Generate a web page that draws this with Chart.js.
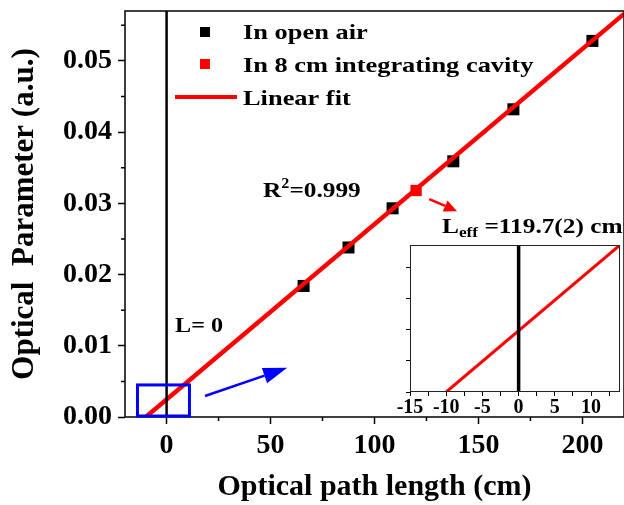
<!DOCTYPE html>
<html>
<head>
<meta charset="utf-8">
<script src="https://cdn.jsdelivr.net/npm/chart.js@4/dist/chart.umd.min.js"></script>
<style>
  body { margin: 0; background: #fff; }
  #wrap { position: relative; width: 624px; height: 505px; }
  #main { position: absolute; left: 0; top: 0; }
  #inset { position: absolute; left: 380px; top: 235px; }
</style>
</head>
<body>
<div id="wrap">
  <canvas id="main" width="624" height="505"></canvas>
  <canvas id="inset" width="244" height="190"></canvas>
</div>
<script>
const airX = [65.9, 87.5, 108.7, 137.9, 166.8, 204.8];
const airY = [0.0184, 0.0238, 0.0293, 0.0359, 0.0432, 0.0528];
const cavityX = [120];
const cavityY = [0.0318];
// linear fit (crosses zero at about -10 cm)
const fitX = [-10, 220];
const fitY = [0, 0.0566];
// L = 0 marker line
const zeroX = [0, 0];
const zeroY = [0, 0.057];
// zoomed inset
const insetFitX = [-10, 14];
const insetFitY = [0, 0.0059];
const insetZeroY = [0, 0.0059];
// zoom box drawn in the main plot
const boxX = [-14, 11];
const boxY = [0, 0.0045];
// minor ticks
const xMinor = [25, 75, 125, 175];
const yMinor = [0.005, 0.015, 0.025, 0.035, 0.045, 0.055];

const SERIF = '"Liberation Serif", "Times New Roman", serif';
const pts = (xs, ys) => xs.map((x, i) => ({ x: x, y: ys[i] }));

// stretched bold serif text like the original figure
const drawText = (ctx, s, x, y, size, sx) => {
	ctx.save();
	ctx.translate(x, y);
	ctx.scale(sx, 1);
	ctx.font = `bold ${size}px ${SERIF}`;
	ctx.textBaseline = 'alphabetic';
	ctx.textAlign = 'left';
	ctx.fillStyle = '#000';
	ctx.fillText(s, 0, 0);
	const w = ctx.measureText(s).width * sx;
	ctx.restore();
	return w;
};

const drawArrow = (ctx, x1, y1, x2, y2, color, lw, headLen, headHalf) => {
	const ang = Math.atan2(y2 - y1, x2 - x1);
	const bx = x2 - headLen * Math.cos(ang);
	const by = y2 - headLen * Math.sin(ang);
	ctx.save();
	ctx.strokeStyle = color;
	ctx.fillStyle = color;
	ctx.lineWidth = lw;
	ctx.beginPath();
	ctx.moveTo(x1, y1);
	ctx.lineTo(bx, by);
	ctx.stroke();
	ctx.beginPath();
	ctx.moveTo(x2, y2);
	ctx.lineTo(bx - headHalf * Math.sin(ang), by + headHalf * Math.cos(ang));
	ctx.lineTo(bx + headHalf * Math.sin(ang), by - headHalf * Math.cos(ang));
	ctx.closePath();
	ctx.fill();
	ctx.restore();
};

// keep the plot box where the original has it
const noPad = (scale) => {
	scale.paddingTop = 0;
	scale.paddingBottom = 0;
	scale.paddingLeft = 0;
	scale.paddingRight = 0;
};

// frame, minor ticks, legend, annotations
const mainDecor = {
	id: 'mainDecor',
	afterDraw(chart) {
		const { ctx, chartArea: a, scales: { x, y } } = chart;
		ctx.save();
		ctx.strokeStyle = '#000';
		ctx.lineWidth = 1.5;
		ctx.strokeRect(a.left, a.top, a.right - a.left, a.bottom - a.top);
		ctx.beginPath();
		xMinor.forEach(v => {
			const px = x.getPixelForValue(v);
			ctx.moveTo(px, a.bottom);
			ctx.lineTo(px, a.bottom + 4);
		});
		yMinor.forEach(v => {
			const py = y.getPixelForValue(v);
			ctx.moveTo(a.left - 4, py);
			ctx.lineTo(a.left, py);
		});
		ctx.stroke();

		// blue zoom box
		ctx.strokeStyle = '#0000ff';
		ctx.lineWidth = 3;
		const bx1 = x.getPixelForValue(boxX[0]), bx2 = x.getPixelForValue(boxX[1]);
		const by1 = y.getPixelForValue(boxY[1]), by2 = y.getPixelForValue(boxY[0]);
		ctx.strokeRect(bx1, by1, bx2 - bx1, by2 - by1 - 1);

		drawArrow(ctx, x.getPixelForValue(18.5), y.getPixelForValue(0.00295),
			x.getPixelForValue(58), y.getPixelForValue(0.0069), '#0000ff', 2.5, 24, 8);
		drawArrow(ctx, x.getPixelForValue(126.3), y.getPixelForValue(0.0306),
			x.getPixelForValue(139.7), y.getPixelForValue(0.0289), '#ff0000', 2.5, 13, 6);

		// legend
		ctx.fillStyle = '#000';
		ctx.fillRect(200, 27, 10, 10);
		ctx.fillStyle = '#ff0000';
		ctx.fillRect(200, 59, 10, 10);
		ctx.strokeStyle = '#ff0000';
		ctx.lineWidth = 4;
		ctx.beginPath();
		ctx.moveTo(175, 97);
		ctx.lineTo(237, 97);
		ctx.stroke();
		drawText(ctx, 'In open air', 243, 39, 22, 1.2);
		drawText(ctx, 'In 8 cm integrating cavity', 243, 72, 22, 1.2);
		drawText(ctx, 'Linear fit', 243, 105, 22, 1.2);

		// R^2 label
		let tx = x.getPixelForValue(46.4), ty = y.getPixelForValue(0.0309);
		tx += drawText(ctx, 'R', tx, ty, 22, 1.15);
		tx += drawText(ctx, '2', tx, ty - 9, 14, 1.15);
		drawText(ctx, '=0.999', tx, ty, 22, 1.15);

		// L = 0
		drawText(ctx, 'L= 0', x.getPixelForValue(4.1), y.getPixelForValue(0.0119), 21, 1.15);

		// L_eff
		tx = x.getPixelForValue(132.5);
		ty = y.getPixelForValue(0.0258);
		tx += drawText(ctx, 'L', tx, ty, 22, 1.15);
		tx += drawText(ctx, 'eff', tx, ty + 4, 15, 1.15);
		drawText(ctx, ' =119.7(2) cm', tx, ty, 22, 1.15);
		ctx.restore();
	}
};

new Chart(document.getElementById('main'), {
	type: 'scatter',
	data: {
		datasets: [
			{
				data: pts(zeroX, zeroY), showLine: true, borderColor: '#000', borderWidth: 2.5,
				pointRadius: 0, order: 0
			},
			{
				data: pts(cavityX, cavityY), pointStyle: 'rect', pointRadius: 8,
				backgroundColor: '#ff0000', borderColor: '#ff0000', borderWidth: 0, order: 1
			},
			{
				data: pts(fitX, fitY), showLine: true, borderColor: '#ff0000', borderWidth: 4.5,
				pointRadius: 0, order: 2
			},
			{
				data: pts(airX, airY), pointStyle: 'rect', pointRadius: 8.5,
				backgroundColor: '#000', borderColor: '#000', borderWidth: 0, order: 3
			}
		]
	},
	options: {
		responsive: false,
		animation: false,
		layout: { autoPadding: false, padding: { top: 11, right: 0, left: 0, bottom: 0 } },
		plugins: { legend: { display: false }, tooltip: { enabled: false } },
		scales: {
			x: {
				type: 'linear', min: -20, max: 220,
				afterFit: (scale) => { scale.height = 88; noPad(scale); },
				grid: { drawOnChartArea: false, tickLength: 7, tickColor: '#000', tickWidth: 1.5 },
				border: { display: false },
				ticks: {
					stepSize: 50, includeBounds: false, padding: 5, color: '#000',
					font: { family: SERIF, size: 28, weight: 'bold' }
				},
				title: {
					display: true, text: 'Optical path length (cm)', color: '#000',
					font: { family: SERIF, size: 30, weight: 'bold' },
					padding: { top: 0, bottom: 0 }
				}
			},
			y: {
				type: 'linear', min: 0, max: 0.057,
				afterFit: (scale) => { scale.width = 125; noPad(scale); },
				grid: { drawOnChartArea: false, tickLength: 7, tickColor: '#000', tickWidth: 1.5 },
				border: { display: false },
				ticks: {
					stepSize: 0.01, includeBounds: false, padding: 6, color: '#000',
					font: { family: SERIF, size: 28, weight: 'bold' },
					callback: (v) => v.toFixed(2)
				},
				title: {
					display: true, text: 'Optical  Parameter (a.u.)', color: '#000',
					font: { family: SERIF, size: 31, weight: 'bold' },
					padding: { top: 6, bottom: 0 }
				}
			}
		}
	},
	plugins: [mainDecor]
});

// inset: white panel and frame
const insetDecor = {
	id: 'insetDecor',
	beforeDraw(chart) {
		const { ctx, chartArea: a } = chart;
		ctx.save();
		ctx.fillStyle = '#fff';
		ctx.fillRect(a.left, a.top, a.right - a.left, a.bottom - a.top);
		ctx.restore();
	},
	afterDraw(chart) {
		const { ctx, chartArea: a } = chart;
		ctx.save();
		ctx.strokeStyle = '#222';
		ctx.lineWidth = 1;
		ctx.strokeRect(a.left + 0.5, a.top + 0.5, a.right - a.left - 1, a.bottom - a.top - 1);
		ctx.restore();
	}
};

new Chart(document.getElementById('inset'), {
	type: 'scatter',
	data: {
		datasets: [
			{
				data: pts(zeroX, insetZeroY), showLine: true, borderColor: '#000', borderWidth: 3.5,
				pointRadius: 0, order: 0
			},
			{
				data: pts(insetFitX, insetFitY), showLine: true, borderColor: '#ff0000', borderWidth: 3,
				pointRadius: 0, order: 1
			}
		]
	},
	options: {
		responsive: false,
		animation: false,
		layout: { autoPadding: false, padding: { top: 10, right: 4, left: 0, bottom: 0 } },
		plugins: { legend: { display: false }, tooltip: { enabled: false } },
		scales: {
			x: {
				type: 'linear', min: -15, max: 14,
				afterFit: (scale) => { scale.height = 33; noPad(scale); },
				grid: { drawOnChartArea: false, tickLength: 4, tickColor: '#000', tickWidth: 1 },
				border: { display: false },
				ticks: {
					stepSize: 2.5, includeBounds: false, padding: 0, color: '#000',
					autoSkip: false, maxRotation: 0,
					font: { family: SERIF, size: 20, weight: 'bold' },
					callback: (v) => (v % 5 === 0 ? v : '')
				}
			},
			y: {
				type: 'linear', min: 0, max: 0.0059,
				afterFit: (scale) => { scale.width = 30; noPad(scale); },
				grid: { drawOnChartArea: false, tickLength: 4, tickColor: '#000', tickWidth: 1 },
				border: { display: false },
				ticks: { stepSize: 0.00125, includeBounds: false, callback: () => '' }
			}
		}
	},
	plugins: [insetDecor]
});
</script>
</body>
</html>
